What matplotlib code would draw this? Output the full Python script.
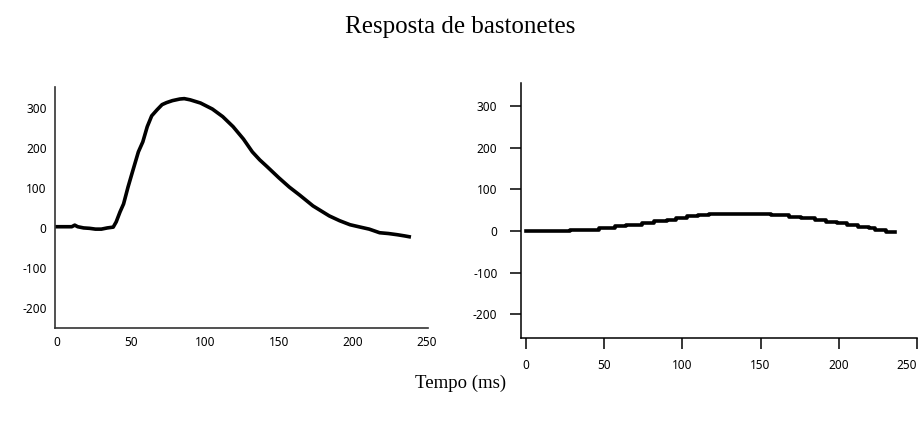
import matplotlib.pyplot as plt

plt.rcParams["axes.unicode_minus"] = False

# painel esquerdo: resposta medida (ms, valor)
t_esq = [0, 5, 10, 12, 14, 18, 22, 26, 30, 34, 38, 40, 42.6, 45, 48, 51, 55, 58, 61, 64,
         67.6, 71, 74, 78, 83, 86, 90, 97, 105, 112, 119, 126, 132, 137, 142, 150, 157,
         164, 173, 184, 191, 198, 205, 211, 218, 224, 230, 235, 238]
v_esq = [3, 3, 3, 7, 3, 0, -1, -3, -3, 0, 2, 15, 40, 60, 102, 140, 190, 215, 253, 280,
         295, 308, 313, 318, 322, 323, 320, 312, 297, 278, 253, 222, 190, 170, 153, 125, 102,
         82, 55, 30, 18, 8, 2, -3, -12, -14, -17, -20, -22]

# painel direito: modelo em degraus
t_dir = [0, 28, 47, 57, 64, 74, 82, 90, 96, 103, 110, 117, 157, 168, 176, 185, 192, 199,
         205, 212, 219, 223, 230, 236]
v_dir = [0, 3, 7, 11, 15, 19, 23, 27, 31, 35, 38, 40, 38, 34, 30, 26, 22, 18,
         14, 10, 6, 2, -2, -3]

yticks = [-200, -100, 0, 100, 200, 300]
xticks = [0, 50, 100, 150, 200, 250]

fig = plt.figure(figsize=(9.21, 4.21), dpi=100)
tick_font = "Noto Sans"

# esquerdo
ax1 = fig.add_axes([0.0597, 0.2209, 0.405, 0.5724])
ax1.plot(t_esq, v_esq, color="black", lw=2.6)
ax1.set_xlim(-1.35, 250.7)
ax1.set_ylim(-250, 352)
ax1.set_xticks(xticks)
ax1.set_yticks(yticks)
ax1.tick_params(length=0, labelsize=8.5, pad=6)
for s in ["top", "right"]:
    ax1.spines[s].set_visible(False)
for s in ["left", "bottom"]:
    ax1.spines[s].set_linewidth(1.2)
    ax1.spines[s].set_color("#333333")

# direito
ax2 = fig.add_axes([0.5657, 0.197, 0.430, 0.6057])
ax2.step(t_dir, v_dir, where="post", color="black", lw=2.6)
ax2.set_xlim(-3, 250)
ax2.set_ylim(-257, 355)
ax2.set_xticks(xticks)
ax2.set_yticks(yticks)
ax2.tick_params(length=8, width=1.1, direction="out", labelsize=8.5)
ax2.tick_params(axis="y", pad=9)
ax2.tick_params(axis="x", pad=7)
for s in ["top", "right"]:
    ax2.spines[s].set_visible(False)
for s in ["left", "bottom"]:
    ax2.spines[s].set_linewidth(1.1)

for ax in (ax1, ax2):
    for lab in ax.get_xticklabels() + ax.get_yticklabels():
        lab.set_fontfamily(tick_font)

# o ultimo rotulo encosta na borda, como no original
ax2.get_xticklabels()[-1].set_horizontalalignment("right")
ax2.get_xticklabels()[-1].set_x(250)

fig.text(0.5, 0.935, "Resposta de bastonetes", ha="center", va="center",
         fontsize=18, family="Liberation Serif")
fig.text(0.5, 0.09, "Tempo (ms)", ha="center", va="center",
         fontsize=13.5, family="Liberation Serif")

fig.savefig("out.png", dpi=100)
